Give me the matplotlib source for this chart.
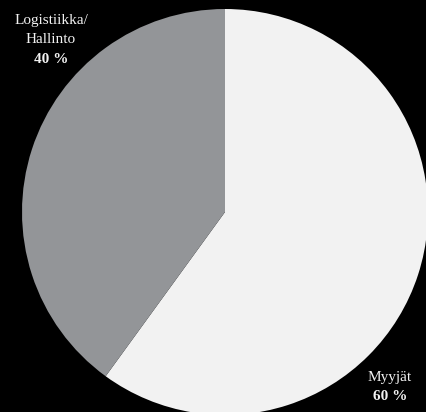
import matplotlib
matplotlib.use("Agg")
import matplotlib.pyplot as plt

shares = [60, 40]
groups = ["Myyjät", "Logistiikka/\nHallinto"]
slice_colors = ["#f2f2f2", "#939598"]

W, H = 426, 412
fig = plt.figure(figsize=(W / 100, H / 100), dpi=100, facecolor="black")
ax = fig.add_axes([0, 0, 1, 1])
ax.set_facecolor("black")

ax.pie(shares, colors=slice_colors, startangle=90, counterclock=False,
       radius=1.0, wedgeprops=dict(linewidth=0))

# pie centre sits at (225, 212) px with a 203 px radius
cx, cy, r = 225, 212, 203
ax.set_xlim((0 - cx) / r, (W - cx) / r)
ax.set_ylim((cy - H) / r, (cy - 0) / r)
ax.set_aspect("equal")
ax.axis("off")

serif = ["Liberation Serif", "DejaVu Serif"]


def put(px, py, s, bold=False):
    fig.text(px / W, 1 - py / H, s, ha="center", va="baseline",
             color="#f2f2f2", fontsize=11, family=serif,
             fontweight="bold" if bold else "normal")


name_lines = groups[1].split("\n")
put(51, 24, name_lines[0])
put(51, 43, name_lines[1])
put(51, 63, f"{shares[1]} %", bold=True)

put(390, 381, groups[0])
put(390, 400, f"{shares[0]} %", bold=True)

fig.savefig("out.png", dpi=100, facecolor="black")
